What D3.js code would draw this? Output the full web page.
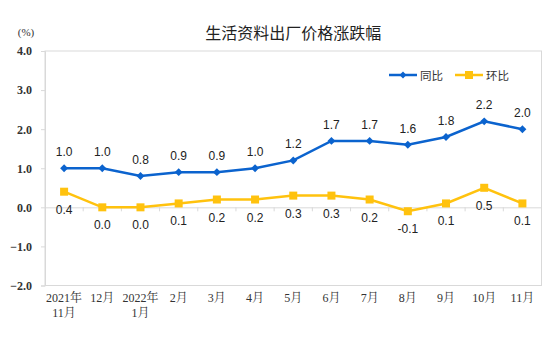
<!DOCTYPE html>
<html><head><meta charset="utf-8">
<script src="https://cdn.jsdelivr.net/npm/d3@7"></script>
<style>body{margin:0;background:#fff}svg{display:block}</style>
</head><body>
<script>
const categories = ["2021年\n11月","12月","2022年\n1月","2月","3月","4月","5月","6月","7月","8月","9月","10月","11月"];
const yoy = [1.0,1.0,0.8,0.9,0.9,1.0,1.2,1.7,1.7,1.6,1.8,2.2,2.0];
const mom = [0.4,0.0,0.0,0.1,0.2,0.2,0.3,0.3,0.2,-0.1,0.1,0.5,0.1];
const yTicks = [4,3,2,1,0,-1,-2];
const seriesNames = ["同比","环比"];
const title = "生活资料出厂价格涨跌幅";

const W=557,H=341;
const m={l:45,r:15.5,t:51,b:55.5};
const svg=d3.select("body").append("svg").attr("width",W).attr("height",H);
const x=d3.scaleBand().domain(categories).range([m.l,W-m.r]);
const y=d3.scaleLinear().domain([-2,4]).range([H-m.b,m.t]);
const cx=(d,i)=>x(categories[i])+x.bandwidth()/2;

// frame
svg.append("rect").attr("x",m.l).attr("y",m.t).attr("width",W-m.r-m.l).attr("height",H-m.b-m.t)
  .attr("fill","none").attr("stroke","#d9d9d9").attr("stroke-width",1);

// y axis
const ya=svg.append("g").attr("transform",`translate(${m.l},0)`)
  .call(d3.axisLeft(y).tickValues(yTicks).tickFormat(d3.format(".1f")).tickSize(4).tickPadding(9));
ya.select(".domain").attr("stroke","#d9d9d9");
ya.selectAll(".tick line").attr("stroke","#d9d9d9");
ya.selectAll("text").attr("font-family","Liberation Serif").attr("font-size",12).attr("font-weight","bold").attr("fill","#333");

// zero line with ticks
const xa=svg.append("g").attr("transform",`translate(0,${y(0)})`)
  .call(d3.axisBottom(x).tickSize(0).tickFormat(""));
xa.select(".domain").attr("stroke","#d9d9d9");
svg.append("g").selectAll("line").data(categories.slice(1)).join("line")
  .attr("x1",d=>x(d)).attr("x2",d=>x(d)).attr("y1",y(0)).attr("y2",y(0)+4).attr("stroke","#d9d9d9");

// x labels
const xl=svg.append("g").selectAll("text").data(categories).join("text")
  .attr("x",d=>x(d)+x.bandwidth()/2).attr("y",H-m.b+16)
  .attr("text-anchor","middle").attr("font-family","Liberation Serif, Noto Serif CJK SC, serif").attr("font-size",12).attr("fill","#333");
xl.each(function(d){
  const t=d3.select(this);
  d.split("\n").forEach((s,k)=>t.append("tspan").attr("x",t.attr("x")).attr("dy",k?15:0).text(s));
});

// title
svg.append("text").attr("x",(m.l+W-m.r)/2).attr("y",39).attr("text-anchor","middle")
  .attr("font-family","Noto Sans CJK SC").attr("font-size",16).attr("fill","#222").text(title);
svg.append("text").attr("x",26).attr("y",36).attr("text-anchor","middle")
  .attr("font-family","Liberation Serif").attr("font-size",11).attr("fill","#333").text("(%)");

const colors=["#0b63ce","#ffc20e"];
const line=d3.line().x((d,i)=>cx(d,i)).y(d=>y(d));
[yoy,mom].forEach((s,k)=>{
  svg.append("path").datum(s).attr("d",line).attr("fill","none").attr("stroke",colors[k]).attr("stroke-width",2.5);
  const g=svg.append("g");
  if(k===0){
    g.selectAll("path").data(s).join("path")
      .attr("d",d3.symbol(d3.symbolDiamond2,40))
      .attr("transform",(d,i)=>`translate(${cx(d,i)},${y(d)})`).attr("fill",colors[k]);
  } else {
    g.selectAll("rect").data(s).join("rect")
      .attr("x",(d,i)=>cx(d,i)-4).attr("y",d=>y(d)-4).attr("width",8).attr("height",8).attr("fill",colors[k]);
  }
  svg.append("g").selectAll("text").data(s).join("text")
    .attr("x",(d,i)=>cx(d,i)).attr("y",d=>k===0?y(d)-12:y(d)+22)
    .attr("text-anchor","middle").attr("font-family","Liberation Sans").attr("font-size",12).attr("fill","#222")
    .text(d=>d.toFixed(1));
});

// legend
const lg=[{x:389,n:seriesNames[0],c:colors[0],k:0},{x:455,n:seriesNames[1],c:colors[1],k:1}];
lg.forEach(o=>{
  const g=svg.append("g");
  g.append("line").attr("x1",o.x).attr("x2",o.x+28).attr("y1",75).attr("y2",75).attr("stroke",o.c).attr("stroke-width",2.5);
  if(o.k===0) g.append("path").attr("d",d3.symbol(d3.symbolDiamond2,30)).attr("transform",`translate(${o.x+14},75)`).attr("fill",o.c);
  else g.append("rect").attr("x",o.x+10).attr("y",71).attr("width",8).attr("height",8).attr("fill",o.c);
  g.append("text").attr("x",o.x+31).attr("y",79.5).attr("font-family","Noto Sans CJK SC").attr("font-size",11.5).attr("fill","#333").text(o.n);
});
</script>
</body></html>
